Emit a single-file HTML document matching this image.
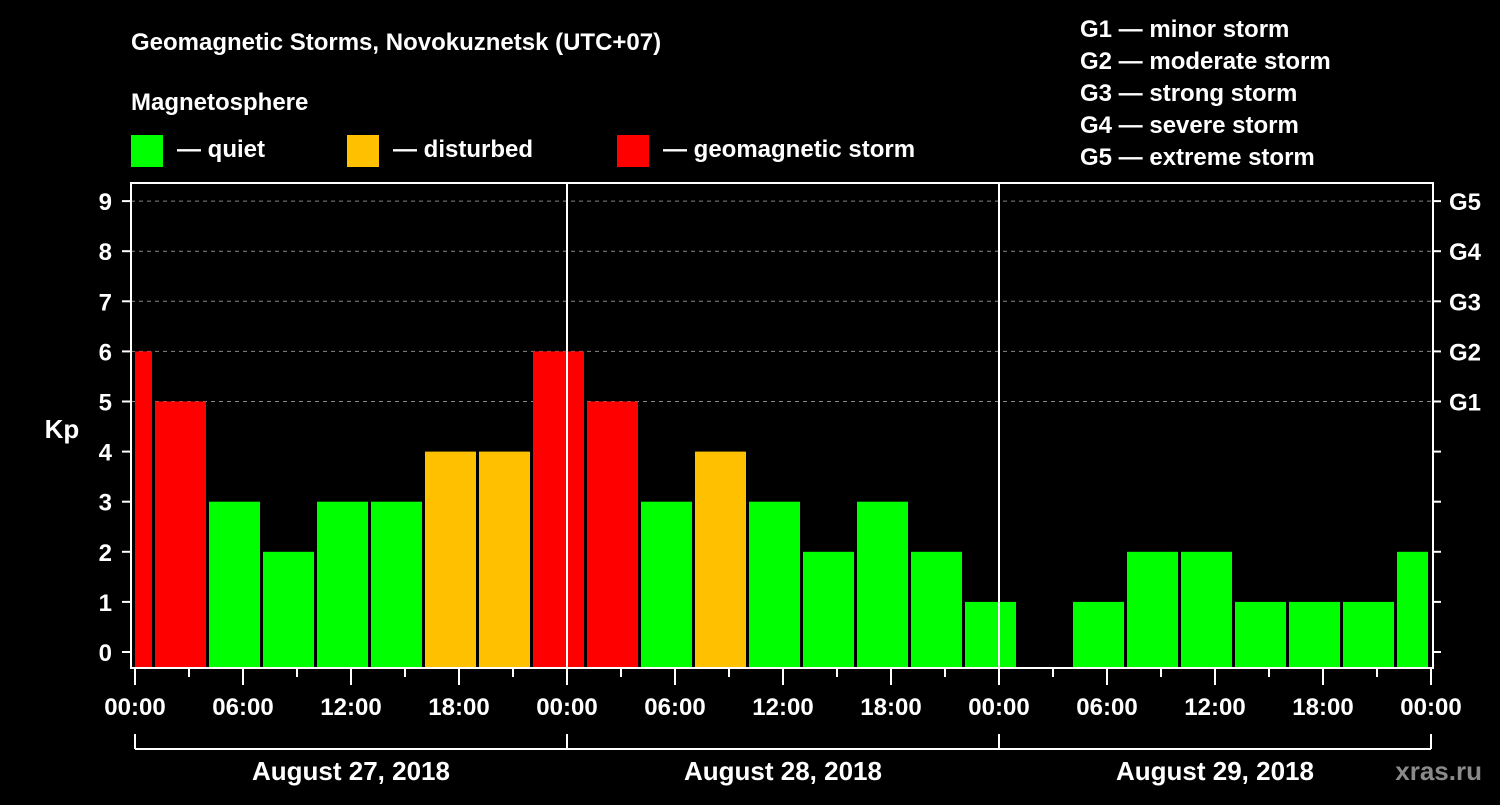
<!DOCTYPE html>
<html><head><meta charset="utf-8"><style>
html,body{margin:0;padding:0;background:#000;}
svg text{font-family:"Liberation Sans",sans-serif;font-weight:bold;fill:#fff;}
</style></head><body>
<svg id="chart" width="1500" height="800" xmlns="http://www.w3.org/2000/svg">
<rect width="1500" height="800" fill="#000"/>
<text x="131" y="50" font-size="24">Geomagnetic Storms, Novokuznetsk (UTC+07)</text>
<text x="131" y="110" font-size="24">Magnetosphere</text>
<g><rect x="131" y="135" width="32" height="32" fill="#00ff00"/><text x="177" y="157" font-size="24">— quiet</text></g>
<g><rect x="347" y="135" width="32" height="32" fill="#ffc000"/><text x="393" y="157" font-size="24">— disturbed</text></g>
<g><rect x="617" y="135" width="32" height="32" fill="#ff0000"/><text x="663" y="157" font-size="24">— geomagnetic storm</text></g>
<g font-size="24">
<text x="1080" y="37">G1 — minor storm</text>
<text x="1080" y="69">G2 — moderate storm</text>
<text x="1080" y="101">G3 — strong storm</text>
<text x="1080" y="133">G4 — severe storm</text>
<text x="1080" y="165">G5 — extreme storm</text>
</g>
<text x="62" y="438" font-size="26" text-anchor="middle">Kp</text>
<g id="grid"></g><g id="bars"></g><g id="axes"></g>
<text x="1482" y="780" font-size="26" fill="#888" style="fill:#8a8a8a" text-anchor="end">xras.ru</text>
</svg>
<script>
const kpValues=[6,5,3,2,3,3,4,4,6,5,3,4,3,2,3,2,1,0,1,2,2,1,1,1,2];
const startHours=[-2,1,4,7,10,13,16,19,22,25,28,31,34,37,40,43,46,49,52,55,58,61,64,67,70];
const yTicks=[0,1,2,3,4,5,6,7,8,9];
const gLabels=["","","","","","G1","G2","G3","G4","G5"];
const xTickLabels=["00:00","06:00","12:00","18:00","00:00","06:00","12:00","18:00","00:00","06:00","12:00","18:00","00:00"];
const dayLabels=["August 27, 2018","August 28, 2018","August 29, 2018"];
const NS="http://www.w3.org/2000/svg";
const L=131,R=1433,T=183,B=668,X0=135,PXH=18;
const xs=h=>X0+h*PXH;
const ys=v=>652-v*50.1;
function mk(tag,attrs,parent,txt){const e=document.createElementNS(NS,tag);for(const k in attrs)e.setAttribute(k,attrs[k]);if(txt!==undefined)e.textContent=txt;parent.appendChild(e);return e;}
const grid=document.getElementById('grid'),bars=document.getElementById('bars'),axes=document.getElementById('axes');
yTicks.forEach(v=>{if(v>=5){const g=mk('line',{x1:L,x2:R,y1:ys(v),y2:ys(v),stroke:'#888','stroke-dasharray':'4,4','stroke-width':1},grid);

}});
kpValues.forEach((v,i)=>{if(v<=0)return;let x1=xs(startHours[i])+2,x2=xs(startHours[i]+3)-1;x1=Math.max(x1,X0);x2=Math.min(x2,R-5);
const c=v>=5?'#ff0000':(v>=4?'#ffc000':'#00ff00');
const r=mk('rect',{x:x1,y:ys(v),width:x2-x1,height:B-ys(v),fill:c},bars);

});
const frame=mk('rect',{x:L,y:T,width:R-L,height:B-T,fill:'none',stroke:'#fff','stroke-width':2},axes);


[24,48].forEach(h=>{const l=mk('line',{x1:xs(h),x2:xs(h),y1:T,y2:B,stroke:'#fff','stroke-width':2},axes);

});
yTicks.forEach(v=>{mk('line',{x1:122,x2:L,y1:ys(v),y2:ys(v),stroke:'#fff','stroke-width':2},axes);
mk('line',{x1:R,x2:1441,y1:ys(v),y2:ys(v),stroke:'#fff','stroke-width':2},axes);
const t=mk('text',{x:112,y:ys(v)+9,'font-size':24,'text-anchor':'end'},axes,String(v));


if(gLabels[v]){const g=mk('text',{x:1449,y:ys(v)+9,'font-size':24},axes,gLabels[v]);

}});
for(let h=0;h<=72;h+=3){const len=h%6===0?(h%24===0?16:16):9;mk('line',{x1:xs(h),x2:xs(h),y1:B,y2:B+(h%6===0?17:9),stroke:'#fff','stroke-width':2},axes);}
xTickLabels.forEach((s,i)=>{const t=mk('text',{x:xs(i*6),y:715,'font-size':24,'text-anchor':'middle'},axes,s);

});
mk('line',{x1:X0,x2:xs(72),y1:749,y2:749,stroke:'#fff','stroke-width':2},axes);
[0,24,48,72].forEach(h=>mk('line',{x1:xs(h),x2:xs(h),y1:734,y2:749,stroke:'#fff','stroke-width':2},axes));
dayLabels.forEach((s,i)=>{const t=mk('text',{x:xs(i*24+12),y:780,'font-size':26,'text-anchor':'middle'},axes,s);

});
</script>
</body></html>
